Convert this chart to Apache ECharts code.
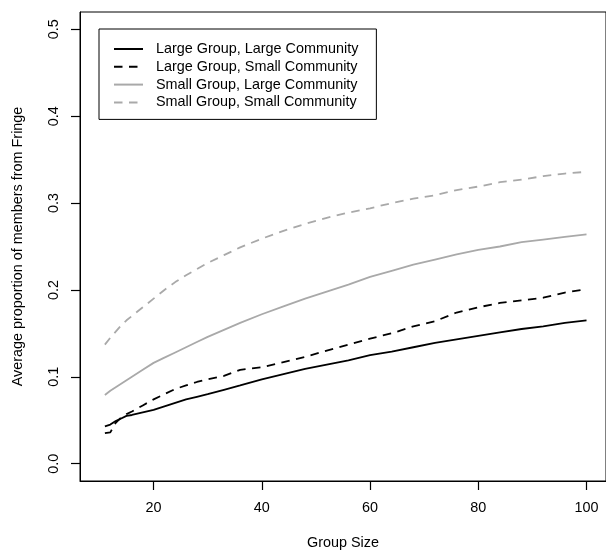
<!DOCTYPE html>
<html>
<head>
<meta charset="utf-8">
<script src="https://cdn.jsdelivr.net/npm/echarts@6/dist/echarts.min.js"></script>
<style>
html,body{margin:0;padding:0;background:#fff;}
#chart{width:606px;height:555px;}
</style>
</head>
<body>
<div id="chart"></div>
<script>
// Group sizes (x)
const groupSizes = [11,12,13,14,15,16,18,20,22,24,26,28,30,33,36,40,44,48,52,56,60,64,68,72,76,80,84,88,92,96,100];
// Series values
const largeGroupLargeCommunity = [0.043,0.045,0.049,0.052,0.055,0.056,0.059,0.062,0.066,0.070,0.074,0.077,0.080,0.085,0.090,0.097,0.103,0.109,0.114,0.119,0.125,0.129,0.134,0.139,0.143,0.147,0.151,0.155,0.158,0.162,0.165];
const largeGroupSmallCommunity = [0.035,0.036,0.047,0.053,0.057,0.060,0.067,0.074,0.080,0.086,0.090,0.094,0.097,0.101,0.108,0.111,0.117,0.123,0.130,0.137,0.144,0.150,0.158,0.164,0.174,0.180,0.185,0.188,0.191,0.197,0.201];
const smallGroupLargeCommunity = [0.079,0.084,0.088,0.092,0.096,0.100,0.108,0.116,0.122,0.128,0.134,0.140,0.146,0.154,0.162,0.172,0.181,0.190,0.198,0.206,0.215,0.222,0.229,0.235,0.241,0.246,0.250,0.255,0.258,0.261,0.264];
const smallGroupSmallCommunity = [0.137,0.145,0.152,0.159,0.165,0.170,0.180,0.190,0.200,0.209,0.217,0.224,0.231,0.240,0.249,0.259,0.268,0.276,0.283,0.289,0.294,0.300,0.305,0.309,0.315,0.319,0.324,0.327,0.331,0.334,0.336];
// Tick labels
const xTicks = [20,40,60,80,100];
const yTicks = [0,0.1,0.2,0.3,0.4,0.5];
const seriesNames = ['Large Group, Large Community','Large Group, Small Community','Small Group, Large Community','Small Group, Small Community'];

const FONT = '"Liberation Sans", Arial, Helvetica, sans-serif';
const FS = 14.4;
const GRAY = '#a9a9a9';
const DASH = [8.5, 6.5];

function pairs(vals){ return groupSizes.map((x,i)=>[x, vals[i]]); }

const styles = [
  {color:'#000', type:'solid'},
  {color:'#000', type:DASH},
  {color:GRAY, type:'solid'},
  {color:GRAY, type:DASH}
];
const allVals = [largeGroupLargeCommunity, largeGroupSmallCommunity, smallGroupLargeCommunity, smallGroupSmallCommunity];

const chart = echarts.init(document.getElementById('chart'), null, {renderer:'canvas'});
chart.setOption({
  animation:false,
  textStyle:{fontFamily:FONT},
  grid:{left:80, top:12, width:527, height:472, show:true, borderColor:'#000', borderWidth:1},
  legend:{
    orient:'vertical', left:99, top:29,
    itemWidth:29, itemHeight:14, itemGap:3.8,
    padding:[13,18,10,14],
    borderColor:'#000', borderWidth:1, backgroundColor:'#fff',
    selectedMode:false,
    itemStyle:{color:'rgba(0,0,0,0)', borderWidth:0, opacity:0},
    textStyle:{fontSize:FS, color:'#000', fontFamily:FONT, padding:[0,0,0,8]},
    data:seriesNames
  },
  xAxis:{
    type:'value', min:6.4, max:103.6,
    axisLine:{show:true, onZero:false, lineStyle:{color:'#000', width:1}},
    splitLine:{show:false},
    axisTick:{show:true, inside:false, length:9, customValues:xTicks, lineStyle:{color:'#000', width:1.2}},
    axisLabel:{show:true, customValues:xTicks, margin:20, fontSize:FS, color:'#000', fontFamily:FONT},
    name:'Group Size', nameLocation:'middle', nameGap:55,
    nameTextStyle:{fontSize:FS, color:'#000', fontFamily:FONT}
  },
  yAxis:{
    type:'value', min:-0.02, max:0.52,
    axisLine:{show:true, onZero:false, lineStyle:{color:'#000', width:1}},
    splitLine:{show:false},
    axisTick:{show:true, inside:false, length:9, customValues:yTicks, lineStyle:{color:'#000', width:1.2}},
    axisLabel:{show:true, customValues:yTicks, rotate:90, margin:19, fontSize:FS, color:'#000', fontFamily:FONT,
      formatter:(v)=>Number(v).toFixed(1)},
    name:'Average proportion of members from Fringe', nameLocation:'middle', nameGap:55,
    nameTextStyle:{fontSize:FS, color:'#000', fontFamily:FONT}
  },
  series: seriesNames.map((n,i)=>({
    name:n, type:'line', symbol:'none', showSymbol:false, smooth:false,
    data:pairs(allVals[i]),
    lineStyle:{color:styles[i].color, type:styles[i].type, width:1.8},
    itemStyle:{color:styles[i].color},
    emphasis:{disabled:true}
  }))
});
</script>
</body>
</html>
